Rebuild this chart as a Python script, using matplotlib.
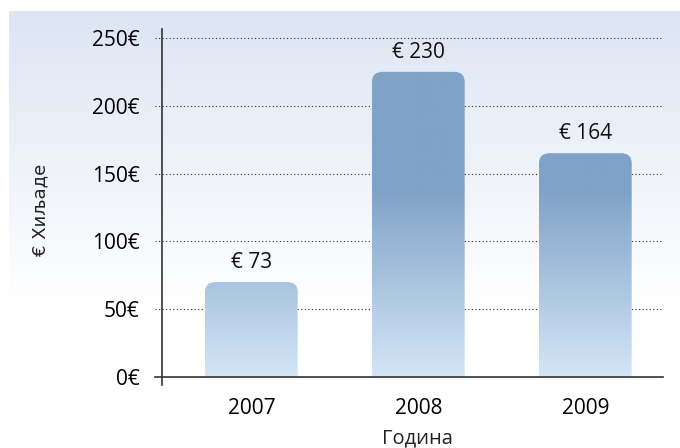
import numpy as np
import matplotlib
matplotlib.use("Agg")
import matplotlib.pyplot as plt
from matplotlib.patches import FancyBboxPatch
from matplotlib.colors import to_rgb

# data
categories = ['2007', '2008', '2009']
bar_heights = [70, 225, 165]
bar_labels = [73, 230, 164]
yticks = [0, 50, 100, 150, 200, 250]

W, H = 680, 448
fig = plt.figure(figsize=(W / 100, H / 100), dpi=100)
fig.patch.set_facecolor('white')

# background panel, blue at top fading to white
bg = fig.add_axes([9 / W, 0, 1 - 9 / W, 1 - 11 / H], zorder=-10)
bg.axis('off')
t = np.linspace(0, 1, 256)[:, None]
top_c = np.array(to_rgb('#dde5f3'))
fade = np.clip(t / 0.68, 0, 1)
bg_img = top_c[None, None, :] * (1 - fade[..., None]) + np.ones(3)[None, None, :] * fade[..., None]
bg.imshow(bg_img, aspect='auto', extent=[0, 1, 0, 1], origin='upper')
bg.set_xlim(0, 1)
bg.set_ylim(0, 1)

ax = fig.add_axes([162 / W, 71 / H, (663 - 162) / W, 348 / H])
ax.patch.set_alpha(0)
ytop = 256.6
xlo, xhi = -0.535, 2.465

# placeholder bars give us the categorical positions
bars = ax.bar(categories, bar_heights, width=0.555, alpha=0)

dark = np.array(to_rgb('#7fa2c7'))
light = np.array(to_rgb('#d4e6f7'))
yy = np.linspace(0, ytop, 300)
s = np.clip(yy / 138.0, 0, 1)
grad = light[None, :] * (1 - s[:, None]) + dark[None, :] * s[:, None]
grad = grad[:, None, :]

for b in bars:
    x0, w, h = b.get_x(), b.get_width(), b.get_height()
    patch = FancyBboxPatch((x0, -20), w, h + 20,
                           boxstyle='round,pad=0,rounding_size=0.062',
                           mutation_aspect=118, facecolor='none',
                           edgecolor='none', zorder=3)
    ax.add_patch(patch)
    im = ax.imshow(grad, extent=[x0, x0 + w, 0, ytop], origin='lower',
                   aspect='auto', zorder=3)
    im.set_clip_path(patch)

for b, lab in zip(bars, bar_labels):
    ax.annotate('€ %d' % lab, (b.get_x() + b.get_width() / 2, b.get_height()),
                xytext=(0, 14), textcoords='offset points', ha='center',
                va='center', fontsize=15, family='Open Sans', color='#111111')

ax.set_xlim(xlo, xhi)
ax.set_ylim(0, ytop)

# dotted gridlines reaching past the spine
ytrans = ax.get_yaxis_transform()
for v in yticks[1:]:
    ax.plot([-0.014, 1], [v, v], transform=ytrans, color='#333333',
            lw=0.8, ls=(0, (1, 2.2)), clip_on=False, zorder=1)

for sp in ax.spines.values():
    sp.set_visible(False)
ax.plot([-0.014, 1], [0, 0], transform=ytrans, color='#333333', lw=1.2,
        clip_on=False, zorder=5)
xtrans = ax.get_xaxis_transform()
ax.plot([xlo, xlo], [-0.023, 1], transform=xtrans, color='#333333', lw=1.2,
        clip_on=False, zorder=5)

ax.set_yticks(yticks)
ax.set_yticklabels(['%d€' % v for v in yticks], family='Open Sans', fontsize=15)
ax.tick_params(axis='y', length=0, pad=16)
ax.tick_params(axis='x', length=0, pad=15, labelsize=15)
for lbl in ax.get_xticklabels():
    lbl.set_family('Open Sans')

fig.text(40 / W, 1 - 210 / H, '€ Хиљаде', rotation=90, ha='center', va='center',
         fontsize=13, family='DejaVu Sans', color='#222222')
fig.text(417 / W, 1 - 438 / H, 'Година', ha='center', va='center',
         fontsize=14.5, family='Open Sans', color='#222222')

fig.savefig('out.png', dpi=100)
